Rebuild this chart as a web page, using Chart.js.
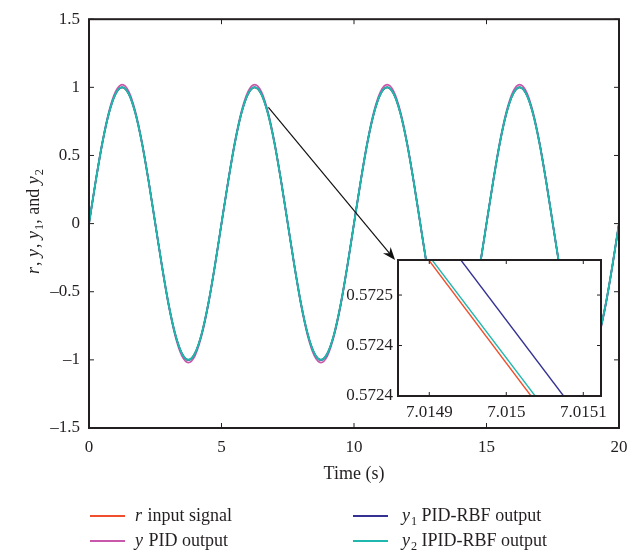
<!DOCTYPE html>
<html lang="en">
<head>
    <meta charset="UTF-8">
    <title>PID / PID-RBF / IPID-RBF tracking</title>
    <script src="https://cdn.jsdelivr.net/npm/chart.js@4/dist/chart.umd.min.js"></script>
    <style>
        html, body {
            margin: 0;
            padding: 0;
            background: #ffffff;
        }

        .wrap {
            position: relative;
            width: 639px;
            height: 556px;
        }

        #inset {
            position: absolute;
            left: 300px;
            top: 240px;
        }
    </style>
</head>
<body>
<div class="wrap">
    <canvas id="main" width="639" height="556"></canvas>
    <canvas id="inset" width="320" height="190"></canvas>
</div>
<script>
    var FONT = '"Liberation Serif", "Times New Roman", serif';
    var INK = '#231f20';

    // time axis (s)
    var timeS = [0, 0.25, 0.5, 0.75, 1, 1.25, 1.5, 1.75, 2, 2.25, 2.5, 2.75, 3, 3.25, 3.5, 3.75, 4, 4.25, 4.5, 4.75,
        5, 5.25, 5.5, 5.75, 6, 6.25, 6.5, 6.75, 7, 7.25, 7.5, 7.75, 8, 8.25, 8.5, 8.75, 9, 9.25, 9.5, 9.75,
        10, 10.25, 10.5, 10.75, 11, 11.25, 11.5, 11.75, 12, 12.25, 12.5, 12.75, 13, 13.25, 13.5, 13.75, 14, 14.25, 14.5, 14.75,
        15, 15.25, 15.5, 15.75, 16, 16.25, 16.5, 16.75, 17, 17.25, 17.5, 17.75, 18, 18.25, 18.5, 18.75, 19, 19.25, 19.5, 19.75,
        20];

    // r input signal
    var rInput = [0, 0.309, 0.588, 0.809, 0.951, 1, 0.951, 0.809, 0.588, 0.309, 0, -0.309, -0.588, -0.809, -0.951, -1, -0.951, -0.809, -0.588, -0.309,
        0, 0.309, 0.588, 0.809, 0.951, 1, 0.951, 0.809, 0.588, 0.309, 0, -0.309, -0.588, -0.809, -0.951, -1, -0.951, -0.809, -0.588, -0.309,
        0, 0.309, 0.588, 0.809, 0.951, 1, 0.951, 0.809, 0.588, 0.309, 0, -0.309, -0.588, -0.809, -0.951, -1, -0.951, -0.809, -0.588, -0.309,
        0, 0.309, 0.588, 0.809, 0.951, 1, 0.951, 0.809, 0.588, 0.309, 0, -0.309, -0.588, -0.809, -0.951, -1, -0.951, -0.809, -0.588, -0.309,
        0];

    // y PID output
    var yPid = [0, 0.312, 0.596, 0.822, 0.968, 1.02, 0.970, 0.824, 0.598, 0.312, 0.002, -0.310, -0.597, -0.823, -0.969, -1.02, -0.970, -0.824, -0.598, -0.312,
        0.002, 0.312, 0.597, 0.823, 0.969, 1.02, 0.970, 0.824, 0.598, 0.312, 0.002, -0.310, -0.597, -0.823, -0.969, -1.02, -0.970, -0.824, -0.598, -0.312,
        0.002, 0.312, 0.597, 0.823, 0.969, 1.02, 0.970, 0.824, 0.598, 0.312, 0.002, -0.310, -0.597, -0.823, -0.969, -1.02, -0.970, -0.824, -0.598, -0.312,
        0.002, 0.312, 0.597, 0.823, 0.969, 1.02, 0.970, 0.824, 0.598, 0.312, 0.002, -0.310, -0.597, -0.823, -0.969, -1.02, -0.970, -0.824, -0.598, -0.312,
        0.002];

    // y1 PID-RBF output
    var y1PidRbf = [0, 0.306, 0.586, 0.808, 0.950, 1.001, 0.952, 0.811, 0.590, 0.311, 0.002, -0.307, -0.587, -0.808, -0.950, -1.001, -0.952, -0.811, -0.590, -0.311,
        0.002, 0.307, 0.587, 0.808, 0.950, 1.001, 0.952, 0.811, 0.590, 0.311, 0.002, -0.307, -0.587, -0.808, -0.950, -1.001, -0.952, -0.811, -0.590, -0.311,
        0.002, 0.307, 0.587, 0.808, 0.950, 1.001, 0.952, 0.811, 0.590, 0.311, 0.002, -0.307, -0.587, -0.808, -0.950, -1.001, -0.952, -0.811, -0.590, -0.311,
        0.002, 0.307, 0.587, 0.808, 0.950, 1.001, 0.952, 0.811, 0.590, 0.311, 0.002, -0.307, -0.587, -0.808, -0.950, -1.001, -0.952, -0.811, -0.590, -0.311,
        0.002];

    // y2 IPID-RBF output
    var y2IpidRbf = [0, 0.308, 0.588, 0.809, 0.951, 1, 0.951, 0.810, 0.589, 0.310, 0.001, -0.308, -0.588, -0.809, -0.951, -1, -0.951, -0.810, -0.589, -0.310,
        0.001, 0.308, 0.588, 0.809, 0.951, 1, 0.951, 0.810, 0.589, 0.310, 0.001, -0.308, -0.588, -0.809, -0.951, -1, -0.951, -0.810, -0.589, -0.310,
        0.001, 0.308, 0.588, 0.809, 0.951, 1, 0.951, 0.810, 0.589, 0.310, 0.001, -0.308, -0.588, -0.809, -0.951, -1, -0.951, -0.810, -0.589, -0.310,
        0.001, 0.308, 0.588, 0.809, 0.951, 1, 0.951, 0.810, 0.589, 0.310, 0.001, -0.308, -0.588, -0.809, -0.951, -1, -0.951, -0.810, -0.589, -0.310,
        0.001];

    // zoomed window around t = 7.015 s : [x, y] end points
    var zoomR = [[7.0148842, 0.5725], [7.0150815, 0.5723]];
    var zoomY1 = [[7.0149258, 0.5725], [7.0151240, 0.5723]];
    var zoomY2 = [[7.0148885, 0.5725], [7.0150872, 0.5723]];

    var insetXTicks = [7.0149, 7.015, 7.0151];
    var insetXLabels = ['7.0149', '7.015', '7.0151'];
    var insetYTicks = [0.57235, 0.5724, 0.57245];
    var insetYLabels = ['0.5724', '0.5724', '0.5725'];

    var arrowFrom = [6.77, 0.853];
    var arrowTo = [11.55, -0.268];

    var COLORS = {r: '#f04e2c', y: '#c957ab', y1: '#343193', y2: '#1fb7ae'};

    var legendItems = [
        {color: COLORS.r, parts: [{t: 'r', it: true}, {t: ' input signal'}]},
        {color: COLORS.y, parts: [{t: 'y', it: true}, {t: ' PID output'}]},
        {color: COLORS.y1, parts: [{t: 'y', it: true}, {t: '1', sub: true}, {t: ' PID-RBF output'}]},
        {color: COLORS.y2, parts: [{t: 'y', it: true}, {t: '2', sub: true}, {t: ' IPID-RBF output'}]}
    ];
    var yTitle = [{t: 'r', it: true}, {t: ', '}, {t: 'y', it: true}, {t: ', '}, {t: 'y', it: true}, {t: '1', sub: true},
        {t: ', and '}, {t: 'y', it: true}, {t: '2', sub: true}];

    function toPoints(xs, ys) {
        return xs.map(function (x, i) {
            return {x: x, y: ys[i]};
        });
    }

    function pairPoints(list) {
        return list.map(function (p) {
            return {x: p[0], y: p[1]};
        });
    }

    function richWidth(ctx, parts, size) {
        var w = 0;
        parts.forEach(function (p) {
            ctx.font = (p.it ? 'italic ' : '') + (p.sub ? size * 0.68 : size) + 'px ' + FONT;
            w += ctx.measureText(p.t).width;
        });
        return w;
    }

    function drawRich(ctx, parts, x, y, size) {
        ctx.textBaseline = 'middle';
        ctx.textAlign = 'left';
        parts.forEach(function (p) {
            ctx.font = (p.it ? 'italic ' : '') + (p.sub ? size * 0.68 : size) + 'px ' + FONT;
            ctx.fillText(p.t, x, p.sub ? y + size * 0.3 : y);
            x += ctx.measureText(p.t).width + (p.it ? 1 : 0);
        });
    }

    function drawFrame(chart, tickLen) {
        var ctx = chart.ctx;
        var a = chart.chartArea;
        var xs = chart.scales.x, ys = chart.scales.y;
        ctx.save();
        ctx.strokeStyle = INK;
        ctx.lineWidth = 1;
        ctx.beginPath();
        xs.ticks.forEach(function (t) {
            var px = xs.getPixelForValue(t.value);
            ctx.moveTo(px, a.bottom);
            ctx.lineTo(px, a.bottom - tickLen);
            ctx.moveTo(px, a.top);
            ctx.lineTo(px, a.top + tickLen);
        });
        ys.ticks.forEach(function (t) {
            var py = ys.getPixelForValue(t.value);
            ctx.moveTo(a.left, py);
            ctx.lineTo(a.left + tickLen, py);
            ctx.moveTo(a.right, py);
            ctx.lineTo(a.right - tickLen, py);
        });
        ctx.stroke();
        ctx.lineWidth = 2;
        ctx.strokeRect(a.left, a.top, a.right - a.left, a.bottom - a.top);
        ctx.restore();
    }

    var mainDecor = {
        id: 'mainDecor',
        afterDraw: function (chart) {
            var ctx = chart.ctx;
            var a = chart.chartArea;
            var xs = chart.scales.x, ys = chart.scales.y;
            drawFrame(chart, 5);

            // arrow pointing at the zoomed window
            var x0 = xs.getPixelForValue(arrowFrom[0]), y0 = ys.getPixelForValue(arrowFrom[1]);
            var x1 = xs.getPixelForValue(arrowTo[0]), y1 = ys.getPixelForValue(arrowTo[1]);
            var ang = Math.atan2(y1 - y0, x1 - x0);
            ctx.save();
            ctx.strokeStyle = '#111';
            ctx.fillStyle = '#111';
            ctx.lineWidth = 1.2;
            ctx.beginPath();
            ctx.moveTo(x0, y0);
            ctx.lineTo(x1 - 8 * Math.cos(ang), y1 - 8 * Math.sin(ang));
            ctx.stroke();
            ctx.beginPath();
            ctx.moveTo(x1, y1);
            ctx.lineTo(x1 - 13 * Math.cos(ang) + 5 * Math.sin(ang), y1 - 13 * Math.sin(ang) - 5 * Math.cos(ang));
            ctx.lineTo(x1 - 9 * Math.cos(ang), y1 - 9 * Math.sin(ang));
            ctx.lineTo(x1 - 13 * Math.cos(ang) - 5 * Math.sin(ang), y1 - 13 * Math.sin(ang) + 5 * Math.cos(ang));
            ctx.closePath();
            ctx.fill();
            ctx.restore();

            // axis titles
            ctx.save();
            ctx.fillStyle = INK;
            ctx.font = '18px ' + FONT;
            ctx.textAlign = 'center';
            ctx.textBaseline = 'middle';
            ctx.fillText('Time (s)', (a.left + a.right) / 2, 474);
            ctx.translate(34, (a.top + a.bottom) / 2);
            ctx.rotate(-Math.PI / 2);
            var w = richWidth(ctx, yTitle, 18);
            drawRich(ctx, yTitle, -w / 2, 0, 18);
            ctx.restore();

            // legend, two columns
            var cols = [[90, 135], [353, 402]];
            var rows = [516, 541];
            ctx.save();
            ctx.fillStyle = INK;
            legendItems.forEach(function (item, i) {
                var c = cols[Math.floor(i / 2)], y = rows[i % 2];
                ctx.strokeStyle = item.color;
                ctx.lineWidth = 2;
                ctx.beginPath();
                ctx.moveTo(c[0], y);
                ctx.lineTo(c[0] + 35, y);
                ctx.stroke();
                drawRich(ctx, item.parts, c[1], y, 18);
            });
            ctx.restore();
        }
    };

    // lower "order" is painted on top: cyan over blue over magenta over red
    var mainChart = new Chart(document.getElementById('main').getContext('2d'), {
        type: 'line',
        data: {
            datasets: [
                {label: 'r input signal', data: toPoints(timeS, rInput), borderColor: COLORS.r, borderWidth: 1.6, order: 3},
                {label: 'y PID output', data: toPoints(timeS, yPid), borderColor: COLORS.y, borderWidth: 1.6, order: 2},
                {label: 'y1 PID-RBF output', data: toPoints(timeS, y1PidRbf), borderColor: COLORS.y1, borderWidth: 1.6, order: 1},
                {label: 'y2 IPID-RBF output', data: toPoints(timeS, y2IpidRbf), borderColor: COLORS.y2, borderWidth: 2, order: 0}
            ]
        },
        options: {
            responsive: false,
            animation: false,
            events: [],
            datasets: {
                line: {pointRadius: 0, cubicInterpolationMode: 'monotone', fill: false}
            },
            layout: {padding: {top: 14, right: 20, left: 0, bottom: 0}},
            plugins: {legend: {display: false}, tooltip: {enabled: false}},
            scales: {
                x: {
                    type: 'linear', min: 0, max: 20,
                    grid: {display: false, drawTicks: false},
                    border: {display: false},
                    ticks: {stepSize: 5, padding: 9, color: INK, font: {family: FONT, size: 17}, maxRotation: 0},
                    afterFit: function (s) { s.height = 128; }
                },
                y: {
                    min: -1.5, max: 1.5,
                    grid: {display: false, drawTicks: false},
                    border: {display: false},
                    ticks: {
                        stepSize: 0.5, padding: 9, color: INK, font: {family: FONT, size: 17},
                        callback: function (v) { return (v < 0 ? '\u2013' : '') + Math.abs(v); }
                    },
                    afterFit: function (s) { s.width = 89; }
                }
            }
        },
        plugins: [mainDecor]
    });

    var insetDecor = {
        id: 'insetDecor',
        beforeDraw: function (chart) {
            var a = chart.chartArea;
            chart.ctx.save();
            chart.ctx.fillStyle = '#ffffff';
            chart.ctx.fillRect(a.left, a.top, a.right - a.left, a.bottom - a.top);
            chart.ctx.restore();
        },
        afterDraw: function (chart) {
            drawFrame(chart, 4);
        }
    };

    var insetChart = new Chart(document.getElementById('inset').getContext('2d'), {
        type: 'line',
        data: {
            datasets: [
                {label: 'r', data: pairPoints(zoomR), borderColor: COLORS.r, order: 2},
                {label: 'y1', data: pairPoints(zoomY1), borderColor: COLORS.y1, order: 1},
                {label: 'y2', data: pairPoints(zoomY2), borderColor: COLORS.y2, order: 0}
            ]
        },
        options: {
            responsive: false,
            animation: false,
            events: [],
            datasets: {
                line: {pointRadius: 0, borderWidth: 1.4, tension: 0, clip: 0, fill: false}
            },
            layout: {padding: {top: 20, right: 19, left: 0, bottom: 0}},
            plugins: {legend: {display: false}, tooltip: {enabled: false}},
            scales: {
                x: {
                    type: 'linear', min: 7.0148594, max: 7.015123,
                    grid: {display: false, drawTicks: false},
                    border: {display: false},
                    afterBuildTicks: function (s) {
                        s.ticks = insetXTicks.map(function (v) { return {value: v}; });
                    },
                    ticks: {
                        padding: 6, color: INK, font: {family: FONT, size: 17}, maxRotation: 0,
                        autoSkip: false,
                        callback: function (v, i) { return insetXLabels[i]; }
                    },
                    afterFit: function (s) { s.height = 34; }
                },
                y: {
                    min: 0.57235, max: 0.5724847,
                    grid: {display: false, drawTicks: false},
                    border: {display: false},
                    afterBuildTicks: function (s) {
                        s.ticks = insetYTicks.map(function (v) { return {value: v}; });
                    },
                    ticks: {
                        padding: 5, color: INK, font: {family: FONT, size: 17},
                        autoSkip: false,
                        callback: function (v, i) { return insetYLabels[i]; }
                    },
                    afterFit: function (s) { s.width = 98; }
                }
            }
        },
        plugins: [insetDecor]
    });
</script>
</body>
</html>
